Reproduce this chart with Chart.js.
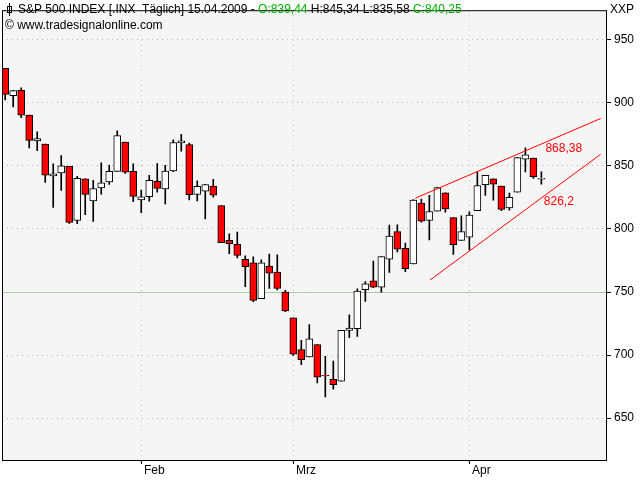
<!DOCTYPE html>
<html><head><meta charset="utf-8">
<script src="https://cdn.jsdelivr.net/npm/chart.js@4/dist/chart.umd.min.js"></script>
<style>html,body{margin:0;padding:0;background:#fff}#c{display:block}</style>
</head><body><canvas id="c" width="640" height="480"></canvas>
<script>
const dates=["07.01","08.01","09.01","12.01","13.01","14.01","15.01","16.01","20.01","21.01","22.01","23.01","26.01","27.01","28.01","29.01","30.01",
"02.02","03.02","04.02","05.02","06.02","09.02","10.02","11.02","12.02","13.02","17.02","18.02","19.02","20.02","23.02","24.02","25.02","26.02","27.02",
"02.03","03.03","04.03","05.03","06.03","09.03","10.03","11.03","12.03","13.03","16.03","17.03","18.03","19.03","20.03","23.03","24.03","25.03","26.03","27.03","30.03","31.03",
"01.04","02.04","03.04","06.04","07.04","08.04","09.04","13.04","14.04","15.04"];
const opens=[927.45,905.73,909.91,890.4,869.79,867.28,841.99,844.45,849.64,806.77,839.74,822.16,832.5,837.3,845.73,868.89,845.69,
823.09,825.69,837.77,831.75,846.09,868.24,866.87,827.41,829.91,833.95,818.61,791.06,787.91,775.87,773.25,744.69,770.64,765.76,749.93,
729.57,704.44,698.6,708.27,684.04,680.76,679.28,719.59,720.89,751.97,758.84,753.88,776.01,797.92,784.58,772.31,820.6,806.81,814.06,828.68,809.07,790.88,
793.59,814.53,835.13,839.75,834.12,816.76,829.29,855.33,856.24,839.44];
const highs=[927.45,910,911.93,890.4,877.02,867.28,851.59,858.13,849.64,841.72,839.74,838.61,852.53,850.45,877.86,868.89,851.66,
830.78,842.6,851.85,850.55,870.75,875.01,868.05,838.22,835.48,839.43,818.61,796.17,797.58,778.69,777.85,775.49,780.12,779.42,751.27,
729.57,711.67,724.12,708.27,699.09,695.27,719.6,731.92,752.63,758.29,774.53,778.12,803.04,803.24,788.91,823.37,823.65,826.78,832.98,828.68,809.07,810.48,
813.62,845.61,842.5,839.75,834.12,828.42,856.91,864.31,856.24,845.34];
const lows=[902.37,896.81,888.31,864.32,862.02,836.93,817.04,830.66,804.47,804.3,811.29,806.07,827.69,835.4,845.73,844.15,821.67,
812.87,821.98,829.18,819.91,845.42,861.65,822.99,822.3,808.06,825.21,789.17,780.43,777.03,754.25,742.37,744.69,752.89,751.75,734.52,
699.7,692.3,698.6,677.93,666.79,672.88,679.28,713.85,714.76,742.46,753.37,749.93,765.64,781.82,766.2,772.31,805.48,791.37,814.06,813.43,779.81,790.88,
783.32,814.53,826.7,822.79,814.53,814.84,829.29,845.35,840.14,835.58];
const closes=[906.65,909.73,890.35,870.26,871.79,842.62,843.74,850.12,805.22,840.24,827.5,831.95,836.57,845.71,874.09,845.14,825.88,
825.44,838.51,832.23,845.85,868.6,869.89,827.16,833.74,835.19,826.84,789.17,788.42,778.94,770.05,743.33,773.14,764.9,752.83,735.09,
700.82,696.33,712.87,682.55,683.38,676.53,719.6,721.36,750.74,756.55,753.89,778.12,794.35,784.04,768.54,822.92,806.12,813.88,832.86,815.94,787.53,797.87,
811.08,834.38,842.5,835.48,815.55,825.16,856.56,858.73,841.5,840.25];
const monthTicks=[17,36,58];
const monthLabels=["Feb","Mrz","Apr"];
const yTicks=[650,700,750,800,850,900,950];
const upperLine=[[51.25,824.4],[74.4,887.6]];
const lowerLine=[[53.1,759.6],[74.4,859.2]];
const levelLabels=[["868,38",67.5,868.38],["826,2",67.3,826.2]];

const bodies=opens.map((o,i)=>({x:i,y:[o,Math.abs(closes[i]-o)<0.6?o+(closes[i]>=o?0.6:-0.6):closes[i]]}));
const wicks=lows.map((l,i)=>({x:i,y:[l,highs[i]]}));
const bodyColors=opens.map((o,i)=>closes[i]<o?'#ff0000':'#ffffff');
const F='"Liberation Sans Narrow","Liberation Sans"';

const bgPlugin={id:'bg',beforeDraw(c){const a=c.chartArea,x=c.ctx,xs=c.scales.x;x.save();x.fillStyle='#f5f5f5';x.fillRect(a.left,a.top,a.width,a.height);
x.strokeStyle='#b8c8b8';x.setLineDash([1,4]);x.lineWidth=1;
monthTicks.forEach(t=>{const p=Math.round(xs.getPixelForValue(t))+0.5;x.beginPath();x.moveTo(p,a.top);x.lineTo(p,a.bottom);x.stroke();});
x.restore();},
afterDraw(c){const a=c.chartArea,x=c.ctx,xs=c.scales.x,ys=c.scales.y;x.save();
x.strokeStyle='#000';x.lineWidth=1;x.strokeRect(a.left+0.5,a.top+0.5,a.width-1,a.height);
monthTicks.forEach(t=>{const p=Math.round(xs.getPixelForValue(t))+0.5;x.beginPath();x.moveTo(p,a.bottom);x.lineTo(p,a.bottom+4);x.stroke();});
x.font='12px '+F;x.textBaseline='middle';x.textAlign='left';
levelLabels.forEach(l=>{x.fillStyle='#ff0000';x.fillText(l[0],xs.getPixelForValue(l[1]),ys.getPixelForValue(l[2])+6);});
let px=18,py=10;
x.strokeStyle='#000';x.strokeRect(7.5,6.5,4,6);x.beginPath();x.moveTo(9.5,3);x.lineTo(9.5,16);x.stroke();
const parts=[["S&P 500 INDEX [.INX  Täglich] 15.04.2009 - ","#000"],["O:839,44 ","#00b000"],["H:845,34 L:835,58 ","#000"],["C:840,25","#00b000"]];
parts.forEach(p=>{x.fillStyle=p[1];x.fillText(p[0],px,py);px+=x.measureText(p[0]).width;});
x.fillStyle='#000';x.fillText("© www.tradesignalonline.com",5,26);
x.fillText("XXP",610,10);
monthTicks.forEach((t,i)=>{x.fillText(monthLabels[i],Math.round(xs.getPixelForValue(t))+3,471);});
x.restore();}};

new Chart(document.getElementById('c'),{
type:'bar',
data:{datasets:[
{type:'line',data:upperLine.map(p=>({x:p[0],y:p[1]})),borderColor:'#ff0000',borderWidth:1,pointRadius:0,order:0},
{type:'line',data:lowerLine.map(p=>({x:p[0],y:p[1]})),borderColor:'#ff0000',borderWidth:1,pointRadius:0,order:0},
{data:bodies,backgroundColor:bodyColors,borderColor:'#000',borderWidth:1,borderSkipped:false,barThickness:7,grouped:false,order:1},
{data:wicks,backgroundColor:'#000',borderWidth:0,barThickness:1,grouped:false,order:2}
]},
options:{responsive:false,animation:false,devicePixelRatio:1,
layout:{padding:{left:2,top:0,right:0,bottom:0}},
plugins:{legend:{display:false},tooltip:{enabled:false}},
scales:{
x:{type:'linear',min:-0.4,max:75.2,offset:false,
afterBuildTicks(s){s.ticks=monthTicks.map(v=>({value:v}));},
afterFit(s){s.height=20;},
ticks:{display:false},
grid:{display:false},border:{display:false}},
y:{position:'right',min:616.8,max:973.5,
afterBuildTicks(s){s.ticks=yTicks.map(v=>({value:v}));},
afterFit(s){s.width=33;},
ticks:{color:'#000',font:{family:F,size:12},padding:3},
grid:{color:c=>c.tick&&c.tick.value===750?'#a8cca0':'#b0b8b0',lineWidth:1,tickLength:4,tickColor:'#000',tickBorderDash:[]},
border:{display:false,dash:c=>c.tick&&c.tick.value===750?[]:[1,4]}}
}},
plugins:[bgPlugin]});
</script></body></html>
